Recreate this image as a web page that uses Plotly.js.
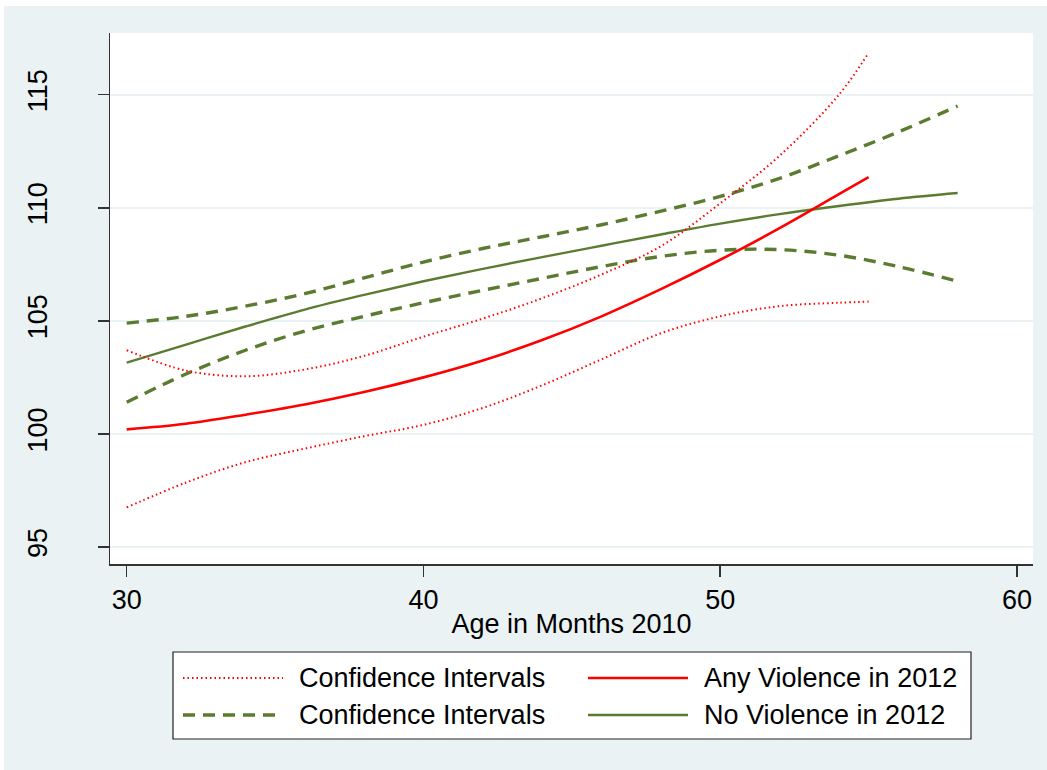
<!DOCTYPE html>
<html>
<head>
<meta charset="utf-8">
<script src="https://cdn.plot.ly/plotly-3.0.1.min.js"></script>
<style>
html, body { margin: 0; padding: 0; background: #ffffff; }
#chart { position: absolute; left: 4px; top: 6px; width: 1043px; height: 764px; }
</style>
</head>
<body>
<div id="chart"></div>
<script>
// ---- data ----
var ageNoViol   = [30, 32, 34, 36, 38, 40, 42, 44, 46, 48, 50, 52, 54, 56, 58];
var noViolence  = [103.15, 103.95, 104.75, 105.5, 106.15, 106.75, 107.3, 107.82, 108.32, 108.82, 109.3, 109.72, 110.08, 110.4, 110.65];
var noViolUpper = [104.9, 105.2, 105.65, 106.2, 106.9, 107.6, 108.2, 108.72, 109.25, 109.85, 110.5, 111.3, 112.3, 113.35, 114.5];
var noViolLower = [101.4, 102.65, 103.7, 104.55, 105.2, 105.8, 106.35, 106.88, 107.4, 107.85, 108.12, 108.15, 107.9, 107.4, 106.75];

var ageViol     = [30, 32, 34, 36, 38, 40, 42, 44, 46, 48, 50, 52, 54, 55];
var anyViolence = [100.2, 100.45, 100.85, 101.3, 101.85, 102.5, 103.25, 104.15, 105.2, 106.4, 107.7, 109.1, 110.6, 111.35];
var violUpper   = [103.7, 102.8, 102.55, 102.85, 103.45, 104.3, 105.1, 106.0, 107.05, 108.3, 110.2, 112.3, 115.0, 116.85];
var violLower   = [96.75, 97.85, 98.75, 99.35, 99.9, 100.4, 101.15, 102.15, 103.3, 104.45, 105.2, 105.65, 105.8, 105.85];

var legendLabels = ['Confidence Intervals', 'Any Violence in 2012', 'Confidence Intervals', 'No Violence in 2012'];
var xTicks = [30, 40, 50, 60];
var yTicks = [95, 100, 105, 110, 115];
var xTitle = 'Age in Months 2010';

// ---- styles ----
var RED = '#ff0000';
var GREEN = '#5b7b31';
var dotStyle   = {color: RED, width: 2, dash: '1.5px,3px', shape: 'spline'};
var redStyle   = {color: RED, width: 2.6, shape: 'spline'};
var dashStyle  = {color: GREEN, width: 3.4, dash: '12px,8px', shape: 'spline'};
var greenStyle = {color: GREEN, width: 2.4, shape: 'spline'};

var traces = [
  {x: ageNoViol, y: noViolUpper, mode: 'lines', line: dashStyle, name: legendLabels[2]},
  {x: ageNoViol, y: noViolLower, mode: 'lines', line: dashStyle, name: legendLabels[2]},
  {x: ageNoViol, y: noViolence, mode: 'lines', line: greenStyle, name: legendLabels[3]},
  {x: ageViol, y: violUpper, mode: 'lines', line: dotStyle, name: legendLabels[0]},
  {x: ageViol, y: violLower, mode: 'lines', line: dotStyle, name: legendLabels[0]},
  {x: ageViol, y: anyViolence, mode: 'lines', line: redStyle, name: legendLabels[1]}
];

// plot area in page pixels: x 110..1033, y 33..564
var PL = 110, PR = 1033, PT = 33, PB = 564;
function px(x) { return (x - PL) / (PR - PL); }
function py(y) { return (PB - y) / (PB - PT); }

var FONT = 'Liberation Sans, Arial, sans-serif';
var FS = 27;
var shapes = [
  {type: 'rect', xref: 'paper', yref: 'paper', x0: px(173), x1: px(971), y0: py(739), y1: py(652),
   line: {color: '#222222', width: 1.2}, fillcolor: '#ffffff', layer: 'above'}
];
var legendItems = [
  {style: dotStyle,   col: 0, row: 0, label: legendLabels[0]},
  {style: redStyle,   col: 1, row: 0, label: legendLabels[1]},
  {style: dashStyle,  col: 0, row: 1, label: legendLabels[2]},
  {style: greenStyle, col: 1, row: 1, label: legendLabels[3]}
];
var colX = [183, 588], rowY = [678, 715];
var annotations = [];
legendItems.forEach(function (it) {
  var x0 = colX[it.col], yy = rowY[it.row];
  var ln = {color: it.style.color, width: it.style.width};
  if (it.style.dash) ln.dash = it.style.dash;
  shapes.push({type: 'line', xref: 'paper', yref: 'paper', x0: px(x0), x1: px(x0 + 100), y0: py(yy), y1: py(yy), line: ln, layer: 'above'});
  annotations.push({xref: 'paper', yref: 'paper', x: px(x0 + 114), y: py(yy), xanchor: 'left', yanchor: 'middle',
    text: it.label, showarrow: false, font: {family: FONT, size: FS, color: '#000000'}});
});

var layout = {
  width: 1043, height: 764,
  paper_bgcolor: '#eaf2f3', plot_bgcolor: '#ffffff',
  margin: {l: PL - 4, r: 1047 - PR, t: PT - 6, b: 770 - PB, pad: 0},
  showlegend: false,
  font: {family: FONT, size: FS, color: '#000000'},
  xaxis: {
    range: [29.437, 60.539], tickvals: xTicks, ticktext: xTicks.map(String),
    ticks: 'outside', ticklen: 11, tickwidth: 1.5, tickcolor: '#333333',
    showline: true, linecolor: '#333333', linewidth: 1.5, showgrid: false, zeroline: false,
    tickfont: {family: FONT, size: FS, color: '#000000'},
    title: {text: xTitle, font: {family: FONT, size: FS, color: '#000000'}, standoff: 0}
  },
  yaxis: {
    range: [94.248, 117.728], tickvals: yTicks, ticktext: yTicks.map(String), tickangle: -90,
    ticks: 'outside', ticklen: 11, tickwidth: 1.5, tickcolor: '#333333',
    showline: true, linecolor: '#333333', linewidth: 1.5,
    showgrid: true, gridcolor: '#eaf2f3', gridwidth: 2, zeroline: false,
    tickfont: {family: FONT, size: FS, color: '#000000'},
    ticklabelstandoff: 40
  },
  shapes: shapes,
  annotations: annotations
};

Plotly.newPlot('chart', traces, layout, {displayModeBar: false, staticPlot: true});
</script>
</body>
</html>
